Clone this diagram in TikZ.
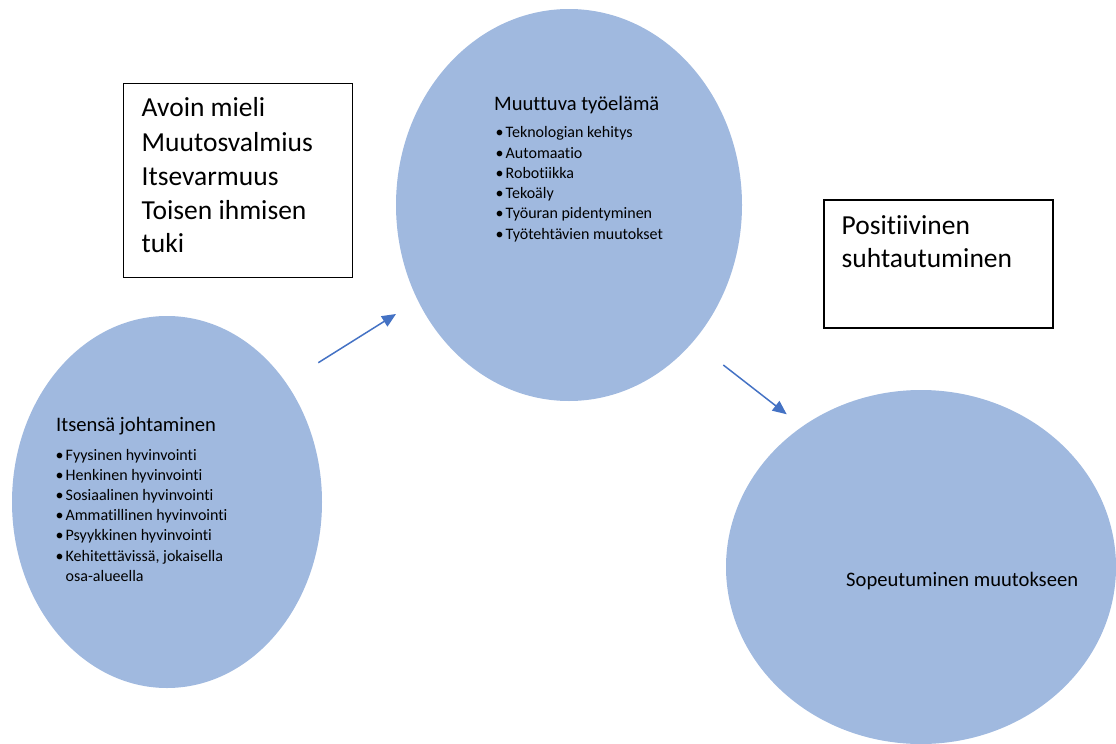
\documentclass[tikz,border=0pt]{standalone}
\usepackage{fontspec}
\setmainfont{Carlito}[Ligatures={NoCommon}]
\usetikzlibrary{shapes.geometric,arrows.meta}
\definecolor{bubble}{RGB}{160,185,223}
\definecolor{arrowblue}{RGB}{68,114,196}
\tikzset{
  bubble/.style={ellipse, fill=bubble, draw=none, inner sep=0pt},
  textbox/.style={draw=black, line width=1.2pt, fill=white, inner sep=0pt, anchor=north west},
  bigtext/.style={anchor=base west, inner sep=0pt, font=\fontsize{27.5}{34}\selectfont},
  headtext/.style={anchor=base west, inner sep=0pt, font=\fontsize{20.6}{25}\selectfont},
  bullettext/.style={anchor=base west, inner sep=0pt, font=\fontsize{16}{20}\selectfont},
  flowarrow/.style={draw=arrowblue, line width=1.5pt, -{Triangle[length=14pt,width=12pt]}}
}
\newcommand{\bul}[1]{\makebox[10pt][l]{•}#1}
\begin{document}
\begin{tikzpicture}[x=1pt,y=-1pt]
\useasboundingbox (0,0) rectangle (1116,744);
% bubbles
\node[bubble, minimum width=310pt, minimum height=372pt] (left) at (167,502) {};
\node[bubble, minimum width=346pt, minimum height=392pt] (top) at (569,205) {};
\node[bubble, minimum width=390pt, minimum height=354pt] (right) at (921,567) {};
% boxes
\node[textbox, minimum width=229pt, minimum height=194pt] (box1) at (122.7,82.5) {};
\node[textbox, minimum width=229pt, minimum height=128pt] (box2) at (823.3,199.3) {};
% box texts
\node[bigtext] (b1l1) at (141.5,116.7) {Avoin mieli};
\node[bigtext] (b1l2) at (141.5,151) {Muutosvalmius};
\node[bigtext] (b1l3) at (141.5,185) {Itsevarmuus};
\node[bigtext] (b1l4) at (141.5,219) {Toisen ihmisen};
\node[bigtext] (b1l5) at (141.5,252) {tuki};
\node[bigtext] (b2l1) at (841.5,234) {Positiivinen};
\node[bigtext] (b2l2) at (841.5,267.5) {suhtautuminen};
% top bubble text
\node[headtext] (tophead) at (494,110) {Muuttuva työelämä};
\foreach \t [count=\i from 0] in {Teknologian kehitys, Automaatio, Robotiikka, Tekoäly, Työuran pidentyminen, Työtehtävien muutokset}
  \node[bullettext] (tb\i) at (495.5,137.7+20.3*\i) {\bul{\t}};
% left bubble text
\node[headtext] (lefthead) at (56,431.7) {Itsensä johtaminen};
\foreach \t [count=\i from 0] in {Fyysinen hyvinvointi, Henkinen hyvinvointi, Sosiaalinen hyvinvointi, Ammatillinen hyvinvointi, Psyykkinen hyvinvointi, {Kehitettävissä, jokaisella}}
  \node[bullettext] (lb\i) at (55.5,460+20.2*\i) {\bul{\t}};
\node[bullettext] (lb6) at (65.5,581) {osa-alueella};
% right bubble text
\node[headtext] (righttext) at (846,586.7) {Sopeutuminen muutokseen};
% arrows
\coordinate (a1s) at (318.3,362.7);
\coordinate (a1e) at (396,314);
\coordinate (a2s) at (723.3,365);
\coordinate (a2e) at (786.7,414.3);
\draw[flowarrow] (a1s) -- (a1e);
\draw[flowarrow] (a2s) -- (a2e);
\end{tikzpicture}
\end{document}
